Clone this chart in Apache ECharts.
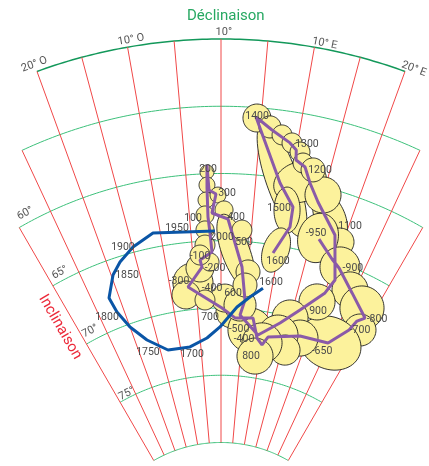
<!DOCTYPE html>
<html><head><meta charset="utf-8">
<script src="https://cdn.jsdelivr.net/npm/echarts@6/dist/echarts.min.js"></script>
<style>html,body{margin:0;padding:0;background:#fff}#c{width:429px;height:466px}</style>
</head><body><div id="c"></div>
<script>
// ---- grid: inclination arcs and declination meridians ----
const arcIncl     = [50, 55, 60, 65, 70, 75, 80];
const arcDecFrom  = [-20, -25, -30, -30, -30, -30, -30];
const arcDecTo    = [20, 25, 30, 30, 30, 30, 30];
const meridianDec      = [-30, -25, -20, -15, -10, -5, 0, 5, 10, 15, 20, 25, 30];
const meridianInclFrom = [60, 55, 50, 50, 50, 50, 50, 50, 50, 50, 50, 55, 60];
const meridianInclTo   = [80, 80, 80, 80, 80, 80, 80, 80, 80, 80, 80, 80, 80];

const decTickText = ['20° O', '10° O', '10°', '10° E', '20° E'];
const decTickDec  = [-20, -9.5, 0.3, 11, 20.8];
const decTickIncl = [49.45, 49.5, 49.5, 49.6, 49.6];
const inclTickText = ['60°', '65°', '70°', '75°'];
const inclTickDec  = [-28.3, -27.9, -28.0, -27.2];
const inclTickIncl = [59.3, 64.4, 69.3, 74.7];

// ---- archaeomagnetic curve (purple) ----
const purpleDec  = [16.17, 19.24, 20.91, 24.77, 29.08, 27.98, 27.41, 24.58, 18.15, 11.08, 10.02, 8.57, 7.05, 3.09, 0.21, -6.49, -3.51, -3.79, -1.59, -1.83, -2.07, -2.06, -1.95, -1.78, -0.75, -1.42, 1.12, 3.88, 4.95, 4.15, 8.69, 13.08, 16.48, 20.11, 21.00, 18.43, 14.50, 12.73, 11.58, 10.20, 10.0, 9.03, 6.51, 4.35, 8.52, 11.01, 11.15, 9.12];
const purpleIncl = [63.84, 64.96, 65.41, 66.74, 67.97, 68.45, 69.32, 70.87, 71.14, 71.82, 72.48, 72.03, 70.60, 70.71, 70.0, 68.30, 66.91, 66.38, 65.83, 64.41, 63.22, 61.06, 59.35, 61.21, 61.52, 62.93, 63.38, 66.90, 69.33, 70.47, 71.80, 70.61, 69.30, 67.51, 66.35, 63.20, 61.20, 59.97, 58.88, 58.50, 57.77, 57.32, 56.55, 55.70, 60.38, 61.98, 63.48, 65.60];

// ---- historical curve (blue) ----
const blueDec  = [8.27, 5.91, 3.39, -0.23, -3.35, -7.68, -13.14, -17.34, -20.0, -21.43, -21.87, -19.68, -17.78, -14.93, -11.18, -0.99];
const blueIncl = [68.3, 69.07, 69.89, 71.41, 72.2, 72.74, 72.67, 71.54, 70.22, 68.83, 67.65, 66.16, 65.41, 64.61, 63.93, 64.27];

// ---- confidence ellipses: centre, radial / tangential semi-axes (deg), tilt (deg) ----
const ellDec  = [8.74, 11.31, 16.85, 14.95, 10.2, 9.55, 4.48, 6.21, 7.86, 9.29, 10.53, 11.2, 12.74, 19.56,
                 15.97, 21.0, 24.2, 27.66, 29.37, 24.97, 19.24, 14.92, 18.29,
                 2.38, 6.7, 13.25, 15.74, 9.94, 8.75, 0.82, 4.0,
                 -5.44, -7.08, -3.89, -2.0, -3.31,
                 -1.98, -2.05, -2.28, -2.53, -2.64, -2.76, -3.73,
                 -0.45, 0.47, 2.64, 3.46, 5.06, 4.7];
const ellIncl = [60.13, 60.05, 62.04, 60.6, 62.28, 65.35, 55.77, 56.34, 56.82, 57.30, 57.86, 58.62, 58.97, 63.57,
                 63.78, 65.31, 66.6, 67.42, 68.93, 70.81, 68.34, 70.07, 71.29,
                 70.28, 71.51, 71.52, 72.47, 72.33, 73.38, 69.26, 69.73,
                 68.04, 68.87, 66.97, 66.57, 69.37,
                 59.87, 60.84, 61.95, 63.06, 64.17, 65.29, 66.01,
                 61.6, 62.71, 65.81, 64.16, 67.23, 68.22];
const ellRad  = [4.46, 1.49, 2.0, 1.34, 1.71, 1.71, 1.04, 0.82, 0.74, 0.74, 0.74, 0.74, 0.89, 1.04,
                 1.86, 1.49, 1.34, 1.64, 1.19, 1.93, 1.34, 1.34, 1.34,
                 1.19, 1.64, 1.49, 1.12, 1.49, 1.34, 1.04, 1.19,
                 1.49, 1.04, 1.04, 0.67, 0.74,
                 0.52, 0.59, 0.59, 0.67, 0.67, 0.74, 0.74,
                 0.59, 0.67, 2.97, 0.74, 0.89, 0.89];
const ellTan  = [1.19, 2.0, 1.12, 1.34, 0.97, 0.97, 1.04, 0.82, 0.74, 0.74, 0.74, 0.74, 0.89, 1.04,
                 1.49, 1.49, 1.34, 1.64, 1.19, 2.38, 1.34, 1.34, 1.34,
                 1.19, 1.64, 1.49, 1.12, 1.49, 1.34, 1.04, 1.19,
                 1.49, 1.04, 1.04, 0.67, 0.74,
                 0.52, 0.59, 0.59, 0.67, 0.67, 0.74, 0.74,
                 0.59, 0.67, 1.04, 0.74, 0.89, 0.89];
const ellTilt = [-28, -30, -40, 0, -10, 10, 0, 0, 0, 0, 0, 0, 0, 0,
                 0, 0, 0, 0, 0, 0, 0, 0, 0,
                 0, 0, 0, 0, 0, 0, 0, 0,
                 0, 0, 0, 0, 0,
                 0, 0, 0, 0, 0, 0, 0,
                 0, 0, -23, 0, 0, 0];

// ---- date labels ----
const dateText = ['1400', '1300', '1200', '1100', '1500', '1600', '-950', '-900', '-800', '-700', '-650', '900',
                  '700', '600', '-500', '-400', '800', '-400', '-200', '-300', '-100', '200', '300', '400', '500', '100',
                  '1600', '1700', '1750', '1800', '1850', '1900', '1950', '2000'];
const dateDec  = [4.47, 11.23, 13.67, 20.18, 8.93, 10.22, 15.44, 23.12, 31.15, 29.37, 24.09, 20.04,
                  -2.42, 2.42, 4.15, 5.52, 7.73, -1.78, -1.11, -8.08, -3.74, -1.82, 0.9, 2.39, 3.93, -4.46,
                  9.62, -7.41, -17.98, -23.67, -17.29, -16.55, -7.19, 0.17];
const dateIncl = [55.62, 57.18, 58.86, 62.19, 62.23, 66.13, 63.47, 65.02, 67.58, 68.93, 71.6, 68.95,
                  70.65, 68.86, 71.51, 72.22, 73.42, 68.5, 67.02, 67.77, 66.08, 59.65, 61.45, 63.21, 65.03, 63.23,
                  67.75, 73.28, 72.41, 68.89, 66.48, 64.41, 63.85, 64.72];

const chart = echarts.init(document.getElementById('c'), null, {renderer: 'canvas'});

function gridItem(params, api) {
  const kind = api.value(2), i = api.value(3);
  if (kind === 0) {
    const pts = [];
    for (let d = arcDecFrom[i]; d <= arcDecTo[i] + 1e-9; d += 0.5) pts.push(api.coord([arcIncl[i], d]));
    return {type: 'polyline', shape: {points: pts},
      style: {stroke: i === 0 ? '#13985a' : '#3cc07a', lineWidth: i === 0 ? 1.5 : 1, fill: null}};
  }
  const a = api.coord([meridianInclFrom[i], meridianDec[i]]);
  const b = api.coord([meridianInclTo[i], meridianDec[i]]);
  return {type: 'line', shape: {x1: a[0], y1: a[1], x2: b[0], y2: b[1]},
    style: {stroke: '#f04848', lineWidth: 1}};
}
const gridData = [];
arcIncl.forEach((v, i) => gridData.push([v, 0, 0, i]));
meridianDec.forEach((v, i) => gridData.push([60, v, 1, i]));

function ellItem(params, api) {
  const i = params.dataIndex;
  const c = api.coord([ellIncl[i], ellDec[i]]);
  const o = api.coord([ellIncl[i] - 1, ellDec[i]]);
  let ux = o[0] - c[0], uy = o[1] - c[1];
  const px = Math.hypot(ux, uy); ux /= px; uy /= px;
  const th = ellTilt[i] * Math.PI / 180;
  const rx = ux * Math.cos(th) - uy * Math.sin(th), ry = ux * Math.sin(th) + uy * Math.cos(th);
  const tx = -ry, ty = rx;
  const A = ellRad[i] * px, B = ellTan[i] * px;
  const pts = [];
  for (let k = 0; k < 64; k++) {
    const t = k / 64 * Math.PI * 2;
    pts.push([c[0] + A * Math.cos(t) * rx + B * Math.sin(t) * tx, c[1] + A * Math.cos(t) * ry + B * Math.sin(t) * ty]);
  }
  return {type: 'polygon', shape: {points: pts}, style: {fill: '#fcf29c', stroke: '#1e1e1e', lineWidth: 0.9}};
}

function textItem(params, api) {
  const c = api.coord([api.value(0), api.value(1)]);
  return {type: 'text', x: c[0], y: c[1], rotation: api.value(3) * Math.PI / 180,
    style: {text: api.value(2), fill: api.value(4), font: api.value(5), align: 'center', verticalAlign: 'middle'}};
}
const textData = [];
decTickText.forEach((t, i) => textData.push([decTickIncl[i], decTickDec[i], t, -decTickDec[i], '#555', '11px Roboto']));
inclTickText.forEach((t, i) => textData.push([inclTickIncl[i], inclTickDec[i], t, -inclTickDec[i], '#555', '11px Roboto']));
dateText.forEach((t, i) => textData.push([dateIncl[i], dateDec[i], t, 0, '#4a4a4a', '10.5px Roboto']));
textData.push([67.9, -32.8, 'Inclinaison', -60, '#ec2a3a', '15px Roboto']);

chart.setOption({
  animation: false,
  title: {text: 'Déclinaison', left: 182, top: 4, textStyle: {color: '#27a862', fontSize: 15, fontWeight: 'normal', fontFamily: 'Roboto'}},
  polar: {center: [221, 577], radius: 538},
  angleAxis: {type: 'value', min: -180, max: 180, startAngle: 270, clockwise: true,
    axisLine: {show: false}, axisTick: {show: false}, axisLabel: {show: false}, splitLine: {show: false}},
  radiusAxis: {type: 'value', min: 50, max: 90, inverse: true,
    axisLine: {show: false}, axisTick: {show: false}, axisLabel: {show: false}, splitLine: {show: false}},
  series: [
    {type: 'custom', coordinateSystem: 'polar', renderItem: gridItem, data: gridData, z: 1, silent: true},
    {type: 'custom', coordinateSystem: 'polar', renderItem: ellItem,
      data: ellDec.map((d, i) => [ellIncl[i], d]), z: 2, silent: true},
    {type: 'line', coordinateSystem: 'polar', data: purpleDec.map((d, i) => [purpleIncl[i], d]),
      symbol: 'none', lineStyle: {color: '#8a5aa8', width: 3}, z: 3, silent: true},
    {type: 'line', coordinateSystem: 'polar', data: blueDec.map((d, i) => [blueIncl[i], d]),
      symbol: 'none', lineStyle: {color: '#0a55a6', width: 3}, z: 4, silent: true},
    {type: 'custom', coordinateSystem: 'polar', renderItem: textItem, data: textData, z: 5, silent: true}
  ]
});
</script></body></html>
